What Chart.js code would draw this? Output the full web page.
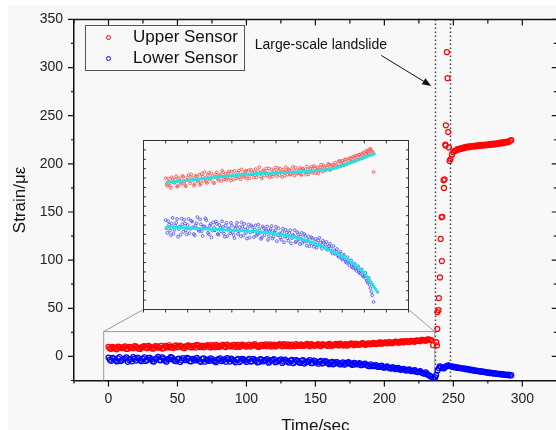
<!DOCTYPE html>
<html>
<head>
<meta charset="utf-8">
<script src="https://cdn.jsdelivr.net/npm/chart.js@4.4.1/dist/chart.umd.min.js"></script>
<style>
  html, body { margin: 0; padding: 0; background: #fff; overflow: hidden; }
  #wrap { position: relative; width: 556px; height: 430px; overflow: hidden; background: #fff; }
  #bg { position: absolute; left: 8px; top: 5px; right: 0; bottom: 0; background: #f8f8f8; }
  #mainChart { position: absolute; left: 0; top: 0; }
  #insetChart { position: absolute; left: 138px; top: 135px; }
</style>
</head>
<body>
<div id="wrap">
  <div id="bg"></div>
  <canvas id="mainChart" width="562" height="440"></canvas>
  <canvas id="insetChart" width="276" height="180"></canvas>
</div>
<script>
// --- data ---
const xTickValues = [0, 50, 100, 150, 200, 250, 300];
const yTickValues = [0, 50, 100, 150, 200, 250, 300, 350];

// before the slide, sampled every second (even and odd seconds kept apart)
const preTime = [0,2,4,6,8,10,12,14,16,18,20,22,24,26,28,30,32,34,36,38,40,42,44,46,48,50,52,54,56,58,
  60,62,64,66,68,70,72,74,76,78,80,82,84,86,88,90,92,94,96,98,100,102,104,106,108,110,112,114,116,118,
  120,122,124,126,128,130,132,134,136,138,140,142,144,146,148,150,152,154,156,158,160,162,164,166,168,170,
  172,174,176,178,180,182,184,186,188,190,192,194,196,198,200,202,204,206,208,210,212,214,216,218,220,222,
  224,226,228,230,232,234];
const upperPre = [10.0,7.9,9.1,7.4,9.7,8.7,10.5,7.9,9.4,8.5,
  10.3,8.1,9.5,10.8,8.6,10.1,8.0,10.6,9.4,10.9,
  8.6,10.4,11.6,9.0,10.8,9.6,11.3,8.9,10.2,11.5,
  9.4,10.9,12.0,9.7,11.2,10.0,11.8,9.3,10.7,11.9,
  9.9,11.4,10.2,12.3,10.6,11.7,9.8,12.1,10.9,11.5,
  10.1,12.4,11.0,12.9,10.4,11.8,10.7,12.6,11.2,10.2,
  12.3,11.0,12.8,10.5,11.9,12.5,10.3,11.6,12.9,10.9,
  12.2,11.1,13.0,10.6,12.0,11.4,12.7,10.8,12.4,11.6,
  13.1,11.0,12.5,11.8,13.2,11.3,12.9,12.0,13.5,11.7,
  13.0,12.3,13.8,12.1,13.4,12.6,14.1,12.8,14.4,13.2,
  14.6,13.4,15.0,13.9,15.3,14.2,15.7,14.5,16.0,14.9,
  16.3,15.2,16.8,15.8,17.3,16.4,17.8,17.0];
const lowerPre = [-1.2,-4.6,-2.4,-5.2,-0.6,-3.8,-1.9,-5.6,-2.9,-0.8,
  -4.3,-2.1,-5.0,-0.9,-3.5,-1.6,-4.9,-2.6,-0.4,-4.1,
  -2.3,-5.4,-3.0,-1.2,-4.6,-2.7,-5.8,-1.8,-3.9,-2.2,
  -5.1,-3.3,-1.5,-4.8,-2.6,-5.5,-3.6,-1.9,-4.4,-6.0,
  -2.8,-4.9,-3.1,-1.8,-5.3,-3.7,-6.1,-2.4,-4.5,-3.0,
  -5.7,-2.6,-4.9,-3.5,-6.2,-2.9,-5.2,-3.9,-6.5,-4.1,
  -2.8,-5.6,-4.0,-6.8,-3.4,-5.9,-4.4,-7.1,-3.8,-6.0,
  -4.7,-7.4,-5.1,-3.9,-6.9,-5.0,-7.6,-4.6,-6.7,-5.4,
  -8.0,-5.6,-7.3,-6.1,-8.3,-6.2,-7.8,-5.9,-8.1,-6.7,
  -8.4,-7.0,-8.9,-7.5,-9.6,-8.1,-10.2,-8.9,-11.0,-9.6,
  -11.7,-10.4,-12.3,-11.1,-13.2,-11.9,-13.9,-12.8,-14.7,-13.5,
  -15.4,-14.3,-16.3,-15.2,-17.4,-16.6,-19.3,-21.2];

const preTimeOdd = [1,3,5,7,9,11,13,15,17,19,21,23,25,27,29,31,33,35,37,39,41,43,45,47,49,51,53,55,57,59,
  61,63,65,67,69,71,73,75,77,79,81,83,85,87,89,91,93,95,97,99,101,103,105,107,109,111,113,115,117,119,
  121,123,125,127,129,131,133,135,137,139,141,143,145,147,149,151,153,155,157,159,161,163,165,167,169,171,
  173,175,177,179,181,183,185,187,189,191,193,195,197,199,201,203,205,207,209,211,213,215,217,219,221,223,
  225,227,229,231,233];
const upperPreOdd = [8.3,9.9,8.0,10.2,8.9,9.6,7.7,10.0,8.8,10.6,
  9.0,7.8,10.1,9.2,11.0,9.5,8.4,10.4,9.1,8.2,
  11.1,9.3,10.0,8.7,11.4,9.9,10.5,8.6,11.0,9.8,
  10.6,9.2,11.5,10.3,9.5,11.3,10.1,11.7,9.6,10.8,
  10.4,12.0,9.7,11.1,10.3,11.9,10.8,9.9,12.2,11.0,
  11.6,10.2,11.8,11.3,9.9,12.1,11.5,10.6,12.5,11.1,
  10.4,11.9,11.3,12.7,10.8,11.5,12.2,10.6,11.8,12.4,
  10.9,12.0,11.5,12.8,11.2,12.0,11.0,12.6,11.9,10.9,
  12.3,11.6,13.0,11.4,12.6,12.1,11.2,12.8,12.3,13.4,
  12.0,12.7,13.5,12.4,13.6,12.9,13.5,13.1,14.6,13.7,
  14.1,14.9,13.7,14.6,15.2,14.4,15.4,15.9,15.0,16.2,
  15.6,16.5,16.0,17.1,16.6,17.6,17.2];
const lowerPreOdd = [-3.4,-1.5,-4.0,-2.1,-4.8,-2.7,-0.9,-3.6,-5.1,-2.3,
  -1.1,-3.9,-2.5,-4.7,-1.4,-3.1,-5.3,-2.0,-3.8,-1.0,
  -4.2,-2.8,-0.7,-3.4,-5.0,-2.2,-4.0,-3.2,-1.6,-4.9,
  -2.5,-4.2,-3.0,-5.6,-1.9,-3.4,-4.7,-2.7,-5.2,-3.3,
  -1.9,-4.1,-5.5,-3.0,-2.2,-4.6,-3.3,-5.9,-2.6,-4.2,
  -3.7,-5.3,-2.4,-4.6,-5.8,-3.3,-4.1,-2.9,-5.5,-3.6,
  -6.1,-4.4,-3.0,-5.2,-4.8,-6.4,-3.5,-5.6,-4.5,-6.7,
  -3.9,-6.0,-5.4,-7.1,-4.4,-6.4,-5.6,-7.3,-4.9,-6.9,
  -6.5,-8.2,-5.8,-7.6,-7.0,-8.6,-6.6,-7.3,-8.8,-7.2,
  -7.7,-9.1,-8.1,-8.7,-10.1,-9.3,-9.6,-10.6,-10.1,-11.3,
  -10.8,-11.6,-12.6,-12.0,-12.5,-13.6,-13.1,-14.2,-14.0,-15.1,
  -14.7,-15.9,-16.0,-16.8,-17.9,-18.4,-20.3];

// during the slide
const upperSlideTime = [235.4,237.7,238.1,238.4,238.4,239.3,239.5,240.3,241.7,240.8,241.5,242.0,
  243.2,242.9,243.7,244.2,244.4,244.6,246.3,245.8,245.3,246.8,247.3];
const upperSlide = [11.6,14.8,11.4,28.6,46,48,60.6,82,99,122,144.6,145,
  175,183,184,220,219,240,233,289,316,217,203];
const lowerSlideTime = [235.4,236.2,236.8,237.5,238.6,239.5,240.2,241.0,242.3,243.0,244.0,245.0,246.3,247.0];
const lowerSlide = [-23.0,-24.3,-21.8,-19.5,-14.5,-12.3,-10.3,-11.0,-11.7,-12.5,-11.2,-10.1,-9.3,-9.8];

// after the slide
const postTime = [248,249,250,251,252,253,254,255,256,257,258,259,260,261,262,263,264,265,266,267,268,
  269,270,271,272,273,274,275,276,277,278,279,280,281,282,283,284,285,286,287,288,289,290,291,292];
const upperPost = [205.0,209.5,212.0,213.4,214.0,215.2,214.8,216.0,215.6,216.9,216.4,217.6,217.0,218.1,
  217.4,218.5,217.8,218.8,218.1,219.2,218.4,219.5,218.7,219.8,219.0,220.1,219.3,220.3,219.6,220.7,
  219.9,221.0,220.2,221.3,220.6,221.8,221.0,222.2,221.5,222.7,222.0,223.2,222.6,224.0,224.6];
const lowerPost = [-10.2,-10.8,-10.5,-11.4,-11.0,-11.9,-11.5,-12.3,-12.0,-12.8,-12.4,-13.3,-13.0,-13.8,
  -13.4,-14.3,-14.0,-14.8,-14.4,-15.2,-14.9,-15.7,-15.3,-16.1,-15.8,-16.5,-16.2,-17.0,-16.6,-17.4,
  -17.0,-17.8,-17.4,-18.1,-17.8,-18.5,-18.1,-18.8,-18.4,-19.1,-18.8,-19.4,-19.0,-19.8,-19.5];

// smooth fits shown in the inset
const upperFitTime = [0,36,73.5,111,149,172,187,206,224.5,237.5];
const upperFit = [8.8,9.7,10.6,11.25,11.6,12.0,12.4,13.8,15.4,16.6];
const lowerFitTime = [0,36,73.5,111,149,172,187,206,224.5,241];
const lowerFit = [-3.0,-3.4,-3.9,-4.4,-5.9,-7.7,-9.3,-11.7,-15.3,-20.7];

const slideLines = [236.5, 247.5];              // dotted markers (sec)
const zoomRegion = { xMin: -3.5, xMax: 236.5, yMax: 25.8 };
const noteText = 'Large-scale landslide';
const notePos = [106, 323];
const arrowFrom = [197.7, 312.6];
const arrowTo = [234.0, 280.9];

const FONT = '"Liberation Sans", Arial, sans-serif';
Chart.defaults.font.family = FONT;

const zip = (xs, ys) => xs.map((x, i) => ({ x: x, y: ys[i] }));
const upperAll = zip(preTime, upperPre).concat(zip(preTimeOdd, upperPreOdd),
  zip(upperSlideTime, upperSlide), zip(postTime, upperPost));
const lowerAll = zip(preTime, lowerPre).concat(zip(preTimeOdd, lowerPreOdd),
  zip(lowerSlideTime, lowerSlide), zip(postTime, lowerPost));

// inset box in page pixels (both canvases share the same origin)
const INSET = { left: 143.5, top: 140.5, right: 408.5, bottom: 309.5 };

const mainDecor = {
  id: 'mainDecor',
  beforeDatasetsDraw(chart) {
    const { ctx, chartArea: a, scales: { x, y } } = chart;
    ctx.save();
    // dotted landslide lines
    ctx.strokeStyle = '#444';
    ctx.lineWidth = 1.5;
    ctx.setLineDash([1.5, 2.5]);
    slideLines.forEach(t => {
      const px = Math.round(x.getPixelForValue(t)) + 0.5;
      ctx.beginPath(); ctx.moveTo(px, a.top); ctx.lineTo(px, a.bottom); ctx.stroke();
    });
    ctx.setLineDash([]);
    // zoom rectangle + connectors to the inset
    const l = x.getPixelForValue(zoomRegion.xMin), r = x.getPixelForValue(zoomRegion.xMax);
    const t = y.getPixelForValue(zoomRegion.yMax);
    ctx.strokeStyle = '#9a9a9a';
    ctx.lineWidth = 1;
    ctx.beginPath();
    ctx.moveTo(l, a.bottom); ctx.lineTo(l, t); ctx.lineTo(r, t); ctx.lineTo(r, a.bottom);
    ctx.moveTo(l, t); ctx.lineTo(INSET.left, INSET.bottom);
    ctx.moveTo(r, t); ctx.lineTo(INSET.right, INSET.bottom);
    ctx.stroke();
    ctx.restore();
  },
  afterDraw(chart) {
    const { ctx, chartArea: a, scales: { x, y } } = chart;
    ctx.save();
    // top / right frame
    ctx.strokeStyle = '#111';
    ctx.lineWidth = 1.5;
    ctx.beginPath();
    ctx.moveTo(a.left, a.top); ctx.lineTo(a.right, a.top); ctx.lineTo(a.right, a.bottom);
    ctx.stroke();
    // tick marks: outward on bottom/left, inward on top/right
    ctx.lineWidth = 1.2;
    ctx.beginPath();
    for (let v = x.min; v <= x.max; v += 25) {
      const px = x.getPixelForValue(v), major = v % 50 === 0;
      ctx.moveTo(px, a.bottom); ctx.lineTo(px, a.bottom + (major ? 6 : 3));
      ctx.moveTo(px, a.top); ctx.lineTo(px, a.top + (major ? 6 : 4));
    }
    for (let v = y.min; v <= y.max; v += 25) {
      const py = y.getPixelForValue(v), major = v % 50 === 0;
      ctx.moveTo(a.left, py); ctx.lineTo(a.left - (major ? 6 : 3), py);
      ctx.moveTo(a.right, py); ctx.lineTo(a.right - (major ? 5 : 3), py);
    }
    ctx.stroke();

    // legend box
    ctx.strokeStyle = '#555';
    ctx.lineWidth = 1;
    ctx.strokeRect(85.5, 25.5, 159, 45);
    ctx.font = '17px ' + FONT;
    ctx.textBaseline = 'middle';
    ctx.fillStyle = '#111';
    [['Upper Sensor', '#ff0000', 37.5], ['Lower Sensor', '#0000ff', 58.5]].forEach(([label, col, yy]) => {
      ctx.strokeStyle = col;
      ctx.beginPath(); ctx.arc(108.5, yy, 2, 0, Math.PI * 2); ctx.stroke();
      ctx.fillText(label, 133, yy);
    });

    // annotation
    ctx.font = '14px ' + FONT;
    ctx.fillStyle = '#111';
    ctx.fillText(noteText, x.getPixelForValue(notePos[0]), y.getPixelForValue(notePos[1]));
    const x1 = x.getPixelForValue(arrowFrom[0]), y1 = y.getPixelForValue(arrowFrom[1]);
    const x2 = x.getPixelForValue(arrowTo[0]), y2 = y.getPixelForValue(arrowTo[1]);
    const ang = Math.atan2(y2 - y1, x2 - x1);
    ctx.strokeStyle = '#111';
    ctx.lineWidth = 1;
    ctx.beginPath(); ctx.moveTo(x1, y1); ctx.lineTo(x2 - 6 * Math.cos(ang), y2 - 6 * Math.sin(ang)); ctx.stroke();
    ctx.beginPath();
    ctx.moveTo(x2, y2);
    ctx.lineTo(x2 - 9 * Math.cos(ang) + 3.5 * Math.sin(ang), y2 - 9 * Math.sin(ang) - 3.5 * Math.cos(ang));
    ctx.lineTo(x2 - 9 * Math.cos(ang) - 3.5 * Math.sin(ang), y2 - 9 * Math.sin(ang) + 3.5 * Math.cos(ang));
    ctx.closePath(); ctx.fill();
    ctx.restore();
  }
};

new Chart(document.getElementById('mainChart'), {
  type: 'scatter',
  data: {
    datasets: [
      { label: 'Upper Sensor', data: upperAll, borderColor: '#ff0000', backgroundColor: 'transparent',
        pointRadius: 2.5, borderWidth: 1.2 },
      { label: 'Lower Sensor', data: lowerAll, borderColor: '#0000ff', backgroundColor: 'transparent',
        pointRadius: 2.5, borderWidth: 1.2 }
    ]
  },
  options: {
    responsive: false,
    animation: false,
    devicePixelRatio: 1,
    layout: { padding: { top: 17, right: 4.5, left: 0, bottom: 0 } },
    plugins: { legend: { display: false }, tooltip: { enabled: false } },
    scales: {
      x: {
        type: 'linear', min: -25, max: 325,
        afterBuildTicks(s) { s.ticks = xTickValues.map(v => ({ value: v })); },
        ticks: { autoSkip: false, padding: 10, color: '#222', font: { size: 14 }, maxRotation: 0 },
        grid: { display: false, drawTicks: false },
        border: { display: true, color: '#111', width: 1.5 },
        title: { display: true, text: 'Time/sec', color: '#111', font: { size: 17 }, padding: { top: 0, bottom: 3 } },
        afterFit(s) { s.height = 59.5; }
      },
      y: {
        min: -25, max: 350,
        afterBuildTicks(s) { s.ticks = yTickValues.map(v => ({ value: v })); },
        ticks: { autoSkip: false, padding: 11, color: '#222', font: { size: 14 } },
        grid: { display: false, drawTicks: false },
        border: { display: true, color: '#111', width: 1.5 },
        title: { display: true, text: 'Strain/με', color: '#111', font: { size: 17 }, padding: { top: 10, bottom: 0 } },
        afterFit(s) { s.width = 74; }
      }
    }
  },
  plugins: [mainDecor]
});

// --- inset: zoom on the pre-landslide part ---
const insetFrame = {
  id: 'insetFrame',
  afterDraw(chart) {
    const { ctx, chartArea: a, scales: { x, y } } = chart;
    ctx.save();
    ctx.strokeStyle = '#333';
    ctx.lineWidth = 1;
    ctx.strokeRect(a.left, a.top, a.width, a.height);
    ctx.beginPath();
    for (let v = x.min; v <= x.max; v += 25) {
      const px = x.getPixelForValue(v);
      ctx.moveTo(px, a.top); ctx.lineTo(px, a.top + 3);
      ctx.moveTo(px, a.bottom); ctx.lineTo(px, a.bottom + 3);
    }
    for (let v = y.min; v <= y.max + 0.01; v += 2.5) {
      const py = y.getPixelForValue(v);
      ctx.moveTo(a.left, py); ctx.lineTo(a.left + 2.5, py);
      ctx.moveTo(a.right, py); ctx.lineTo(a.right - 2.5, py);
    }
    ctx.stroke();
    ctx.restore();
  }
};

const insetCanvas = document.getElementById('insetChart');
const cLeft = 138, cTop = 135;
new Chart(insetCanvas, {
  type: 'scatter',
  data: {
    datasets: [
      { data: zip(upperFitTime, upperFit), showLine: true, borderColor: '#25e0e0', borderWidth: 3,
        pointRadius: 0, cubicInterpolationMode: 'monotone', order: 0 },
      { data: zip(lowerFitTime, lowerFit), showLine: true, borderColor: '#25e0e0', borderWidth: 3,
        pointRadius: 0, cubicInterpolationMode: 'monotone', order: 0 },
      { data: upperAll.filter(p => p.x <= 235.5), borderColor: '#ff4040', backgroundColor: 'transparent',
        pointRadius: 1.4, borderWidth: 0.8, order: 1 },
      { data: lowerAll.filter(p => p.x <= 235.5), borderColor: '#4444ff', backgroundColor: 'transparent',
        pointRadius: 1.4, borderWidth: 0.8, order: 1 }
    ]
  },
  options: {
    responsive: false,
    animation: false,
    devicePixelRatio: 1,
    layout: { padding: { left: INSET.left - cLeft, top: INSET.top - cTop,
      right: insetCanvas.width - (INSET.right - cLeft), bottom: insetCanvas.height - (INSET.bottom - cTop) } },
    plugins: { legend: { display: false }, tooltip: { enabled: false } },
    scales: {
      x: { type: 'linear', display: false, min: -25, max: 275 },
      y: { display: false, min: -25, max: 20 }
    }
  },
  plugins: [insetFrame]
});
</script>
</body>
</html>
